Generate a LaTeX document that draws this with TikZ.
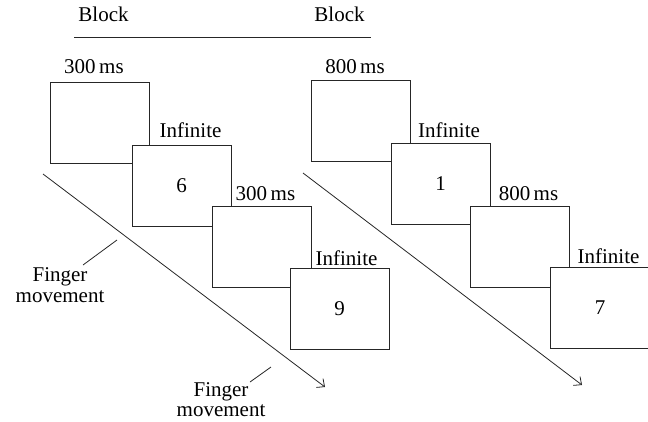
\documentclass[tikz,border=0pt]{standalone}
\usepackage{fontspec}
\setmainfont{Liberation Serif}
\usetikzlibrary{arrows.meta}
\begin{document}
\begin{tikzpicture}[x=1pt,y=-1pt,
  screen/.style={draw=black!85,line width=0.9pt,fill=white,minimum width=99pt,minimum height=81pt,inner sep=0pt,font=\fontsize{21}{24}\selectfont},
  lbl/.style={anchor=base,inner sep=0pt,font=\fontsize{21}{24}\selectfont},
  flbl/.style={align=center,inner sep=0pt,font=\fontsize{21}{20.5}\selectfont},
  thin line/.style={draw=black!85,line width=0.8pt},
  move/.style={draw=black!85,line width=0.8pt,-{Straight Barb[length=6pt,width=11pt,line width=0.8pt]}}]
\useasboundingbox (0,0) rectangle (648,421);
% header
\node[lbl] (blockA) at (103.5,21.5) {Block};
\node[lbl] (blockB) at (339.5,21.5) {Block};
\coordinate (hl) at (74,37.3);
\coordinate (hr) at (371,37.3);
\draw[thin line] (hl) -- (hr);
% left sequence
\node[screen] (b1) at (100,122.5) {};
\node[screen] (b2) at (181.5,185.5) {6};
\node[screen] (b3) at (261.5,247) {};
\node[screen] (b4) at (339.5,309) {9};
\node[lbl] (lb1) at (94,73) {300\,ms};
\node[lbl] (lb2) at (190.5,137) {Infinite};
\node[lbl] (lb3) at (265.5,200.5) {300\,ms};
\node[lbl] (lb4) at (346.5,265.5) {Infinite};
% right sequence
\node[screen] (c1) at (360.5,121) {};
\node[screen] (c2) at (440.5,184) {1};
\node[screen] (c3) at (519.5,246.5) {};
\node[screen] (c4) at (600,308) {7};
\node[lbl] (lc1) at (355,73) {800\,ms};
\node[lbl] (lc2) at (449,137) {Infinite};
\node[lbl] (lc3) at (528.5,200.5) {800\,ms};
\node[lbl] (lc4) at (608.5,263.5) {Infinite};
% movement arrows
\coordinate (a1s) at (43,174);
\coordinate (a1e) at (325,387);
\coordinate (a2s) at (303,173);
\coordinate (a2e) at (582,385);
\draw[move] (a1s) -- (a1e);
\draw[move] (a2s) -- (a2e);
% finger movement labels
\node[flbl] (fm1) at (60,285) {Finger\\movement};
\node[flbl] (fm2) at (221,399.5) {Finger\\movement};
\coordinate (p1a) at (83,265);
\coordinate (p1b) at (117,240);
\coordinate (p2a) at (250,382);
\coordinate (p2b) at (271,367);
\draw[thin line] (p1a) -- (p1b);
\draw[thin line] (p2a) -- (p2b);
\end{tikzpicture}
\end{document}
